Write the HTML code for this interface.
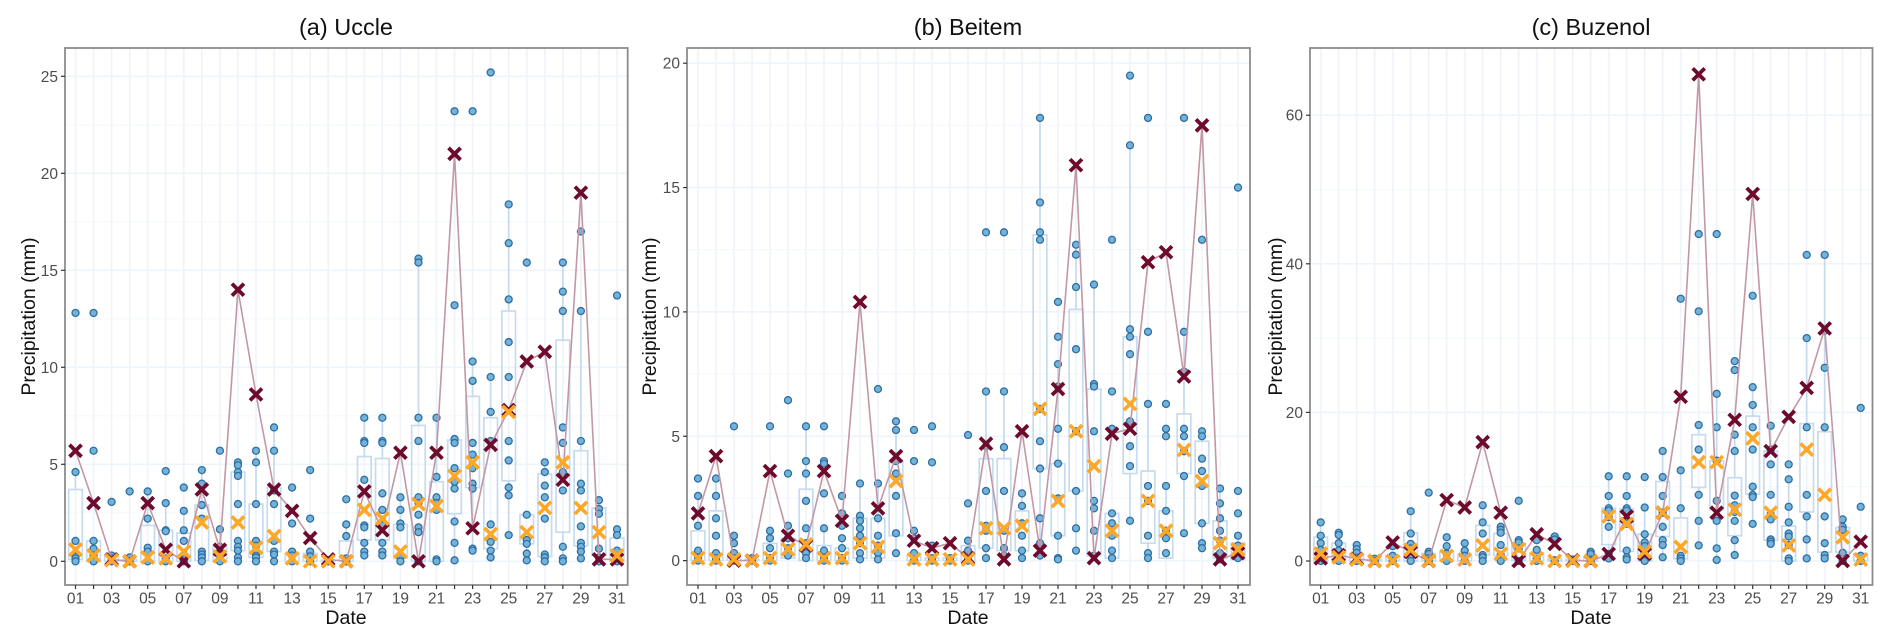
<!DOCTYPE html>
<html lang="en">
<head>
<meta charset="utf-8">
<title>Daily precipitation at Uccle, Beitem and Buzenol</title>
<style>
html,body{margin:0;padding:0;background:#fff;}
#figure{display:block;width:1892px;height:643px;font-family:"Liberation Sans",Arial,sans-serif;filter:blur(0.35px);}
.panel-title{font-size:23.5px;fill:#111;text-anchor:middle;}
.axis-title{font-size:19.5px;fill:#111;text-anchor:middle;}
.tick-text{font-size:15.5px;fill:#4d4d4d;}
</style>
</head>
<body>
<svg id="figure" xmlns="http://www.w3.org/2000/svg" width="1892" height="643" viewBox="0 0 1892 643">
  <rect x="0" y="0" width="1892" height="643" fill="#ffffff"/>
  <g id="panel-a">
    <text class="panel-title" x="346" y="35">(a) Uccle</text>
    <text class="axis-title" x="346" y="624">Date</text>
    <text class="axis-title" transform="translate(35,316.5) rotate(-90)">Precipitation (mm)</text>
  </g>
  <g id="panel-b">
    <text class="panel-title" x="968" y="35">(b) Beitem</text>
    <text class="axis-title" x="968" y="624">Date</text>
    <text class="axis-title" transform="translate(656,316.5) rotate(-90)">Precipitation (mm)</text>
  </g>
  <g id="panel-c">
    <text class="panel-title" x="1591" y="35">(c) Buzenol</text>
    <text class="axis-title" x="1591" y="624">Date</text>
    <text class="axis-title" transform="translate(1282,316.5) rotate(-90)">Precipitation (mm)</text>
  </g>
</svg>
<script>
// ---- shared categories ----
const days = ["01","02","03","04","05","06","07","08","09","10","11","12","13","14","15","16","17","18","19","20","21","22","23","24","25","26","27","28","29","30","31"];

// ---- (a) Uccle ----
const uccleYTicks = [0,5,10,15,20,25];
const uccleYMinor = [2.5,7.5,12.5,17.5,22.5];
const uccleObserved = [5.7,3.0,0.1,0,3.0,0.6,0,3.7,0.6,14,8.6,3.7,2.6,1.2,0.1,0,3.6,1.6,5.6,0,5.6,21,1.7,6,7.8,10.3,10.8,4.2,19,0.1,0.1];
const uccleMedian = [0.6,0.3,0.05,0,0.2,0.15,0.5,2,0.25,2,0.7,1.3,0.15,0,0,0,2.65,2.2,0.5,2.95,2.85,4.4,5.1,1.4,7.7,1.5,2.75,5.1,2.75,1.5,0.3];
const uccleQ1 = [0.1,0,0,0,0,0,0,0.05,0,0.55,0.2,0.5,0,0,0,0,1.1,1.1,0.15,0,0,2.45,3.8,0.65,4.15,0.9,0.25,1.5,0.8,0.3,0];
const uccleQ3 = [3.7,1.05,0.3,0.1,1.85,1.6,1.45,2.9,0.75,4.6,2.95,3.8,0.4,0.4,0.05,1.05,5.4,5.3,1.9,7.0,4.1,6.25,8.5,7.4,12.9,2.4,4.5,11.4,5.7,2.75,1.2];
const uccleMembers = [
  [12.8,4.6,1.05,0.25,0.15,0],[12.8,5.7,1.05,0.65,0.3,0],[3.06,0.3,0.15,0],[3.6,0.2,0],[3.6,2.2,0.7,0.5,0],
  [4.65,3,1.6,1.55,0.15,0],[3.8,2.6,1.6,1.05,0.1,0],[4.7,4,2.9,2.2,0.5,0.35,0.2,0],[5.7,1.65,0.75,0.5,0.15,0],
  [5.1,4.95,4.6,4.4,2.95,1.05,0.75,0.55,0.2,0],[5.7,5.1,2.95,1.05,0.8,0.3,0.2,0],[6.9,5.7,3.65,2.95,1.05,0.5,0.35,0],
  [3.8,1.95,0.5,0.3,0],[4.7,2.2,0.5,0.25,0],[0.05,0],[3.2,1.9,1.3,0.15,0],
  [7.4,6.2,6.1,4.2,1.85,1.75,0.95,0.5,0.3],[7.4,6.2,6.1,3.5,2.65,1.85,0.95,0.5,0.3],[3.3,2.65,1.95,1.75,0.3,0.2,0],
  [15.6,15.4,7.4,6.2,3.3,3,2.4,1.75,1.5,0],[7.4,4.35,3.3,3,2.65,0.1,0],[23.2,13.2,6.3,6.1,4.8,4.1,3.75,2.05,0.95,0.05],
  [23.2,10.3,9.3,6.1,5.5,4.8,4,3.75,0.65,0.55],[25.2,9.5,7.7,6.2,1.9,1,0.55,0.2],[18.4,16.4,13.5,11.3,9.5,6.2,5.2,3.8,3.4,1.35],
  [15.4,2.4,1.1,0.9,0.4,0.05],[5.1,4.6,3.9,3.3,2.2,0.35,0.2,0],[15.4,13.9,12.9,6.9,6.1,4.6,3.65,0.75,0.15,0],
  [17,12.9,6.2,4,3.65,1.8,0.95,0.75,0.5,0.15],[3.15,2.7,2.45,0.65,0.2,0],[13.7,1.65,1.35,0.55,0.2,0]
];

// ---- (b) Beitem ----
const beitemYTicks = [0,5,10,15,20];
const beitemYMinor = [2.5,7.5,12.5,17.5];
const beitemObserved = [1.9,4.2,0,0,3.6,1,0.6,3.6,1.6,10.4,2.1,4.2,0.8,0.5,0.7,0.1,4.7,0.05,5.2,0.4,6.9,15.9,0.1,5.1,5.3,12,12.4,7.4,17.5,0.05,0.3];
const beitemMedian = [0.1,0.05,0.05,0,0.1,0.45,0.65,0.1,0.1,0.7,0.55,3.2,0.05,0.05,0.05,0.05,1.3,1.3,1.4,6.1,2.4,5.2,3.8,1.2,6.3,2.4,1.2,4.45,3.2,0.7,0.45];
const beitemQ1 = [0,0,0,0,0,0.1,0,0,0,0.1,0.1,1,0,0,0,0,0.5,0.4,0.4,3.7,1,2.8,0.2,0.1,3.5,0.7,0.1,3.5,1.5,0.1,0.05];
const beitemQ3 = [1.2,2,0.1,0.05,0.7,0.9,2.87,0.6,0.5,1.7,1.7,4,0.2,0.1,0.1,0.6,4.1,4.1,2,13.1,3.9,10.1,6.9,1.9,9,3.6,2,5.9,4.8,1.6,0.7];
const beitemMembers = [
  [3.3,2.6,1.4,0.4,0.1,0],[3.3,2.6,1.7,1.0,0.3,0.1,0],[5.4,1,0.7,0.3,0.1,0],[0.1,0],[5.4,1.2,0.9,0.5,0.1,0],
  [6.45,3.5,1.4,0.9,0.5,0.2],[5.4,4,3.5,2.4,1.3,0.7,0.3,0.1],[5.4,4,3.9,2.7,1.3,0.4,0.1,0],[2.6,1.9,1.4,0.9,0.5,0.1,0],
  [3.1,1.8,1.6,1.3,1.0,0.7,0.3,0.05],[6.9,3.1,1.7,1,0.6,0.3,0.05],[5.6,5.25,4,3.5,2.6,1.1,0.3],[5.25,4,1.2,0.9,0.3,0],
  [5.4,3.95,0.6,0.1,0],[0.1,0],[5.05,2.3,0.8,0.4,0.1,0],[13.2,6.8,4.6,2.8,1.4,1.2,0.5,0.1],[13.2,6.8,4.56,2.8,1.2,0.5,0.2],
  [2.7,2.2,1.5,1,0.4,0.1],[17.8,14.4,13.2,12.9,6.1,4.8,3.7,1.7,0.7,0.2],[10.4,9,7.9,7,5.3,3.9,2.5,1,0.1,0.05],
  [12.7,12.3,11,8.5,5.2,2.8,1.3,0.4],[11.1,7.1,7,5.2,2.4,2.1,1.2,0.2],[12.9,6.8,5.3,1.9,1.5,1,0.4,0.1],
  [19.5,16.7,9.3,9,8.3,5.6,4.6,3.8,1.6],[17.8,9.2,6.3,3,2.4,1,0.3,0.1],[6.3,5.3,5,3,2,1.2,0.9,0.3],[17.8,9.2,7.6,5.3,5,4.4,3.4,1.1],
  [12.9,5.2,5,4.1,3.6,3,1.5,0.7,0.5],[2.9,2.3,1.7,1.2,0.8,0.3,0.05],[15,2.8,1.9,1,0.6,0.3,0.1]
];

// ---- (c) Buzenol ----
const buzenolYTicks = [0,20,40,60];
const buzenolYMinor = [10,30,50];
const buzenolObserved = [0.35,0.8,0.3,0,2.5,1.2,0,8.2,7.2,16,6.5,0,3.6,2.3,0.1,0,0.95,6,0.95,6.5,22.1,65.5,6.5,19,49.4,14.8,19.4,23.3,31.3,0,2.6];
const buzenolMedian = [1,0.5,0.2,0,0,1.5,0,0.7,0.2,2.1,0.95,1.6,0.35,0,0,0,6,5,1.25,6.5,1.9,13.3,13.3,6.9,16.5,6.5,2.1,15,8.9,3.2,0.2];
const buzenolQ1 = [0,0.2,0,0,0,0,0,0.1,0,0.8,0.7,0.1,0,0,0,0,2.2,1.3,0,3.3,0.3,9.9,6.9,3.4,9,2.8,0,6.6,1.2,1.2,0];
const buzenolQ3 = [3.2,2.4,0.9,0.2,0.7,3.8,1,1.2,0.6,4.8,3.7,2.3,1,0.3,0.2,0.4,7.1,7,3.6,10.7,5.8,17,13.5,11.2,19.5,14.8,4.7,18.5,17.4,4.5,1];
const buzenolMembers = [
  [5.2,3.4,2.4,1.5,0.7,0],[3.8,3.5,2.4,1.4,0.6,0],[2.15,1.6,1.1,0.45,0],[0.3,0],[2,0.7,0],[6.7,3.7,2.3,1.7,0.7,0],
  [9.2,1.25,0.95,0.35,0],[3.2,2,1,0],[2.4,1.4,0.7,0],[7.5,5.2,3.7,0.8,0.5,0],[4.6,4.2,3.8,2.15,0.8,0],[8.1,2.8,2.5,1.7,0],
  [2.8,1.5,0.3,0],[3.3,2.9,0.1,0],[0.2,0],[1.25,0.95,0.2,0],[11.4,8.75,7.1,6.8,5.9,4.6,0.95,0.35],[11.4,8.75,7.1,6.8,5,1.4,0.5,0.2],
  [11.3,7.2,3.6,2.5,2,1.1,0],[14.8,11.3,8.75,6.5,4.6,2.8,2.15,0.5],[35.3,12.2,7.1,0.7,0.35,0],[44,33.6,18.3,15,8.9,5.4,2.1],
  [44,22.5,18,13.5,8.1,5.4,1.7,0.15],[26.9,25.7,17,14.8,8.8,7.5,6.6,5.4,2.8,0.8],[35.7,23.4,21,18,15,10,8.9,8.6,5],
  [18.2,15,13,8.9,6.3,5.6,2.9,2.6,2.3],[13,11,7.3,5.2,3.7,3.3,2.15,0.35,0],[41.2,30,18,8.9,6,2.9,0.35],[41.2,31,26,18,6,2.4,0.8,0.35],
  [5.6,4.6,4.2,1.1,0],[20.6,7.3,0.7,0]
];

// ---- drawing ----
const NS = 'http://www.w3.org/2000/svg';
const plotTop = 48, plotBottom = 585;
function mk(parent, tag, attrs) {
  const el = document.createElementNS(NS, tag);
  for (const k in attrs) el.setAttribute(k, attrs[k]);
  parent.appendChild(el);
  return el;
}
function makeXScale(first, step) { return function (i) { return first + i * step; }; }
function makeYScale(zero, perUnit) { return function (v) { return zero - v * perUnit; }; }

function drawCross(parent, cx, cy, r, color, width, name) {
  const d = 'M' + (cx - r) + ' ' + (cy - r) + 'L' + (cx + r) + ' ' + (cy + r) + 'M' + (cx + r) + ' ' + (cy - r) + 'L' + (cx - r) + ' ' + (cy + r);
  const el = mk(parent, 'path', { d: d, stroke: color, 'stroke-width': width, fill: 'none' });
  
  
}

function drawPanel(groupId, left, right, xs, ys, yTicks, yMinor, observed, median, q1, q3, members) {
  const root = document.getElementById(groupId);

  // grid
  const grid = mk(root, 'g', {});
  
  
  yMinor.forEach(function (v) {
    mk(grid, 'line', { x1: left, x2: right, y1: ys(v), y2: ys(v), stroke: '#f5f8fc', 'stroke-width': 1.1 });
  });
  yTicks.forEach(function (v) {
    mk(grid, 'line', { x1: left, x2: right, y1: ys(v), y2: ys(v), stroke: '#eff4fb', 'stroke-width': 1.7 });
  });
  days.forEach(function (d, i) {
    mk(grid, 'line', { x1: xs(i), x2: xs(i), y1: plotTop, y2: plotBottom, stroke: '#eff4fb', 'stroke-width': 1.7 });
  });

  // boxes and whiskers
  const boxes = mk(root, 'g', { fill: 'none', stroke: '#c6dbef', 'stroke-width': 1.7 });
  
  
  days.forEach(function (d, i) {
    const iqr = q3[i] - q1[i];
    const inHigh = members[i].filter(function (v) { return v <= q3[i] + 1.5 * iqr; }).concat([q3[i]]);
    const inLow = members[i].filter(function (v) { return v >= q1[i] - 1.5 * iqr; }).concat([q1[i]]);
    const hi = Math.max.apply(null, inHigh);
    const lo = Math.min.apply(null, inLow);
    mk(boxes, 'line', { x1: xs(i), x2: xs(i), y1: ys(hi), y2: ys(q3[i]) });
    mk(boxes, 'line', { x1: xs(i), x2: xs(i), y1: ys(q1[i]), y2: ys(lo) });
    const box = mk(boxes, 'rect', { x: xs(i) - 6.8, width: 13.6, y: ys(q3[i]), height: Math.max(ys(q1[i]) - ys(q3[i]), 0.5) });
    
    
  });

  // ensemble member points
  const pts = mk(root, 'g', { fill: '#74b3d9', stroke: '#2f6fa3', 'stroke-width': 1.3 });
  
  
  members.forEach(function (list, i) {
    list.forEach(function (v) {
      const c = mk(pts, 'circle', { cx: xs(i), cy: ys(v), r: 3.5 });
      
      
    });
  });

  // observation line
  const path = observed.map(function (v, i) { return (i ? 'L' : 'M') + xs(i).toFixed(2) + ' ' + ys(v).toFixed(2); }).join('');
  const line = mk(root, 'path', { d: path, fill: 'none', stroke: '#c297a6', 'stroke-width': 1.6 });
  
  

  // observed crosses
  observed.forEach(function (v, i) { drawCross(root, xs(i), ys(v), 6, '#6e0a2c', 3.8, 'observed-marker-day-' + days[i]); });
  // median crosses
  median.forEach(function (v, i) { drawCross(root, xs(i), ys(v), 6.2, '#ffa726', 3.6, 'median-marker-day-' + days[i]); });

  // frame
  const frame = mk(root, 'rect', { x: left, y: plotTop, width: right - left, height: plotBottom - plotTop, fill: 'none', stroke: '#8c8c8c', 'stroke-width': 1.8 });
  
  

  // y ticks
  yTicks.forEach(function (v) {
    mk(root, 'line', { x1: left - 4, x2: left, y1: ys(v), y2: ys(v), stroke: '#333', 'stroke-width': 1.2 });
    const t = mk(root, 'text', { class: 'tick-text', x: left - 7, y: ys(v) + 5.5, 'text-anchor': 'end' });
    t.textContent = String(v);
    
    
  });
  // x ticks
  days.forEach(function (d, i) {
    mk(root, 'line', { x1: xs(i), x2: xs(i), y1: plotBottom, y2: plotBottom + 4, stroke: '#333', 'stroke-width': 1.2 });
    if (i % 2 === 0) {
      const t = mk(root, 'text', { class: 'tick-text', x: xs(i), y: plotBottom + 18.5, 'text-anchor': 'middle' });
      t.textContent = d;
      
      
    }
  });
}

drawPanel('panel-a', 65, 627.7, makeXScale(75.5, 18.05), makeYScale(561.3, 19.4), uccleYTicks, uccleYMinor, uccleObserved, uccleMedian, uccleQ1, uccleQ3, uccleMembers);
drawPanel('panel-b', 687, 1250, makeXScale(698, 18.0), makeYScale(560.6, 24.87), beitemYTicks, beitemYMinor, beitemObserved, beitemMedian, beitemQ1, beitemQ3, beitemMembers);
drawPanel('panel-c', 1310, 1872.5, makeXScale(1320.7, 18.0), makeYScale(561, 7.43), buzenolYTicks, buzenolYMinor, buzenolObserved, buzenolMedian, buzenolQ1, buzenolQ3, buzenolMembers);
</script>
</body>
</html>
